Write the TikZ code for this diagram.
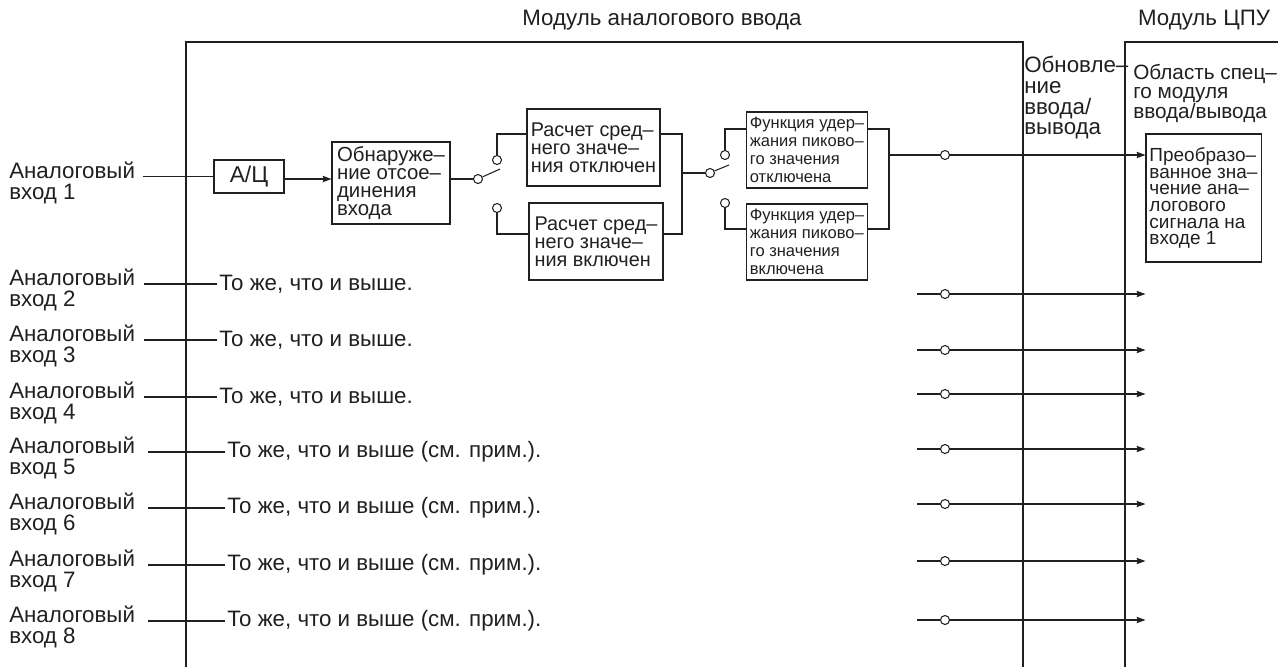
\documentclass[tikz,border=0pt]{standalone}
\usepackage{fontspec}
\setmainfont{Liberation Sans}
\usetikzlibrary{arrows.meta, positioning}
\definecolor{inkgray}{RGB}{35,31,32}
\tikzstyle{plaintext} = [inner sep=1pt, align=left, text=inkgray,
                         font=\fontsize{12.7}{11.8}\selectfont]
\tikzstyle{block} = [rectangle, draw=inkgray, inner sep=2pt, align=left,
                     text=inkgray, font=\fontsize{11.3}{10.2}\selectfont]
\tikzstyle{smallblock} = [block, font=\fontsize{9.4}{10.2}\selectfont]
\tikzstyle{contact} = [circle, draw=inkgray, fill=white, inner sep=0pt,
                       minimum size=0.18cm]
\tikzstyle{arrow} = [->, >={Stealth[length=5pt, width=3.6pt, inset=0.6pt]}]

\begin{document}
\begin{tikzpicture}[x=0.02cm, y=-0.02cm, line width=0.6pt, draw=inkgray]
    \useasboundingbox (0,0) rectangle (1278,667);

    % module frames
    \draw (186,667) -- (186,42) -- (1023,42) -- (1023,667);
    \draw (1125,667) -- (1125,42) -- (1278,42);

    \node (ModuleTitle) [plaintext] at (662,20) {Модуль аналогового ввода};
    \node (CpuTitle) [plaintext] at (1204,20) {Модуль ЦПУ};
    \node (UpdateText) [plaintext, anchor=north west] at (1022,54) {Обновле–\\ние\\ввода/\\вывода};
    \node (AreaText) [plaintext, anchor=north west, font=\fontsize{11.8}{11}\selectfont] at (1131,62) {Область спец–\\го модуля\\ввода/вывода};

    % input 1 chain
    \node (InOne) [plaintext, anchor=west] at (7,183) {Аналоговый\\вход 1};
    \node (ADConv) [block, minimum width=1.4cm, minimum height=0.66cm, align=center,
                    font=\fontsize{13}{13}\selectfont] at (249,176.5) {А/Ц};
    \draw ([xshift=3pt]InOne.east |- ADConv.west) -- (ADConv.west);

    \node (Detect) [block, font=\fontsize{11.6}{10.2}\selectfont, minimum width=2.36cm,
                    minimum height=1.64cm] at (391,183) {Обнаруже–\\ние отсое–\\динения\\входа};
    \draw [arrow] (ADConv.east |- 0,179) -- (Detect.west |- 0,179);

    \node (SwOnePivot) [contact] at (478,179) {};
    \node (SwOneUp) [contact] at (497,160) {};
    \node (SwOneDown) [contact] at (497,208) {};
    \coordinate (SwOneLever) at (500,169);
    \draw (Detect.east |- SwOnePivot) -- (SwOnePivot);
    \draw (SwOnePivot.25) -- (SwOneLever);

    \node (AvgOff) [block, minimum width=2.66cm, minimum height=1.54cm] at (593.5,147.5) {Расчет сред–\\него значе–\\ния отключен};
    \node (AvgOn) [block, minimum width=2.68cm, minimum height=1.54cm] at (596,241.5) {Расчет сред–\\него значе–\\ния включен};
    \draw (SwOneUp.north) |- (AvgOff.west |- 0,134);
    \draw (SwOneDown.south) |- (AvgOn.west |- 0,234);
    \coordinate (AvgJoin) at (682,173);
    \draw (AvgOff.east |- 0,134) -| (AvgJoin) |- (AvgOn.east |- 0,234);

    \node (SwTwoPivot) [contact] at (710,173) {};
    \node (SwTwoUp) [contact] at (725,155) {};
    \node (SwTwoDown) [contact] at (725,203) {};
    \coordinate (SwTwoLever) at (729,165);
    \draw (AvgJoin) -- (SwTwoPivot);
    \draw (SwTwoPivot.25) -- (SwTwoLever);

    \node (PeakOff) [smallblock, minimum width=2.4cm, minimum height=1.52cm] at (807,150) {Функция удер–\\жания пиково–\\го значения\\отключена};
    \node (PeakOn) [smallblock, minimum width=2.4cm, minimum height=1.52cm] at (807,242) {Функция удер–\\жания пиково–\\го значения\\включена};
    \draw (SwTwoUp.north) |- (PeakOff.west |- 0,129);
    \draw (SwTwoDown.south) |- (PeakOn.west |- 0,229);
    \coordinate (PeakJoin) at (889,155);
    \draw (PeakOff.east |- 0,129) -| (PeakJoin) |- (PeakOn.east |- 0,229);

    \node (OutOne) [contact] at (945,155) {};
    \node (Result) [block, font=\fontsize{10.8}{9.5}\selectfont, minimum width=2.26cm,
                    minimum height=2.56cm] at (1203.5,198) {Преобразо–\\ванное зна–\\чение ана–\\логового\\сигнала на\\входе 1};
    \draw (PeakJoin) -- (OutOne);
    \draw [arrow] (OutOne) -- (OutOne -| Result.west);

    % inputs 2 to 8
    \node (InTwo) [plaintext, anchor=west] at (7,290) {Аналоговый\\вход 2};
    \node (SameTwo) [plaintext, anchor=west] at (217,284) {То же, что и выше.};
    \draw ([xshift=4pt]InTwo.east |- SameTwo.west) -- (SameTwo.west);

    \node (InThree) [plaintext, anchor=west] at (7,346) {Аналоговый\\вход 3};
    \node (SameThree) [plaintext, anchor=west] at (217,340) {То же, что и выше.};
    \draw ([xshift=4pt]InThree.east |- SameThree.west) -- (SameThree.west);

    \node (InFour) [plaintext, anchor=west] at (7,403) {Аналоговый\\вход 4};
    \node (SameFour) [plaintext, anchor=west] at (217,397) {То же, что и выше.};
    \draw ([xshift=4pt]InFour.east |- SameFour.west) -- (SameFour.west);

    \node (InFive) [plaintext, anchor=west] at (7,458) {Аналоговый\\вход 5};
    \node (SameFive) [plaintext, anchor=west] at (225,452) {То же, что и выше (см. прим.).};
    \draw ([xshift=6pt]InFive.east |- SameFive.west) -- (SameFive.west);

    \node (InSix) [plaintext, anchor=west] at (7,514) {Аналоговый\\вход 6};
    \node (SameSix) [plaintext, anchor=west] at (225,508) {То же, что и выше (см. прим.).};
    \draw ([xshift=6pt]InSix.east |- SameSix.west) -- (SameSix.west);

    \node (InSeven) [plaintext, anchor=west] at (7,571) {Аналоговый\\вход 7};
    \node (SameSeven) [plaintext, anchor=west] at (225,565) {То же, что и выше (см. прим.).};
    \draw ([xshift=6pt]InSeven.east |- SameSeven.west) -- (SameSeven.west);

    \node (InEight) [plaintext, anchor=west] at (7,627) {Аналоговый\\вход 8};
    \node (SameEight) [plaintext, anchor=west] at (225,621) {То же, что и выше (см. прим.).};
    \draw ([xshift=6pt]InEight.east |- SameEight.west) -- (SameEight.west);

    % outputs 2 to 8
    \coordinate (FeedTwo) at (917,294);
    \node (OutTwo) [contact] at (945,294) {};
    \draw (FeedTwo) -- (OutTwo);
    \draw [arrow] (OutTwo) -- (OutTwo -| Result.west);

    \coordinate (FeedThree) at (917,350);
    \node (OutThree) [contact] at (945,350) {};
    \draw (FeedThree) -- (OutThree);
    \draw [arrow] (OutThree) -- (OutThree -| Result.west);

    \coordinate (FeedFour) at (917,394);
    \node (OutFour) [contact] at (945,394) {};
    \draw (FeedFour) -- (OutFour);
    \draw [arrow] (OutFour) -- (OutFour -| Result.west);

    \coordinate (FeedFive) at (917,449);
    \node (OutFive) [contact] at (945,449) {};
    \draw (FeedFive) -- (OutFive);
    \draw [arrow] (OutFive) -- (OutFive -| Result.west);

    \coordinate (FeedSix) at (917,504);
    \node (OutSix) [contact] at (945,504) {};
    \draw (FeedSix) -- (OutSix);
    \draw [arrow] (OutSix) -- (OutSix -| Result.west);

    \coordinate (FeedSeven) at (917,561);
    \node (OutSeven) [contact] at (945,561) {};
    \draw (FeedSeven) -- (OutSeven);
    \draw [arrow] (OutSeven) -- (OutSeven -| Result.west);

    \coordinate (FeedEight) at (917,620);
    \node (OutEight) [contact] at (945,620) {};
    \draw (FeedEight) -- (OutEight);
    \draw [arrow] (OutEight) -- (OutEight -| Result.west);

\end{tikzpicture}
\end{document}
